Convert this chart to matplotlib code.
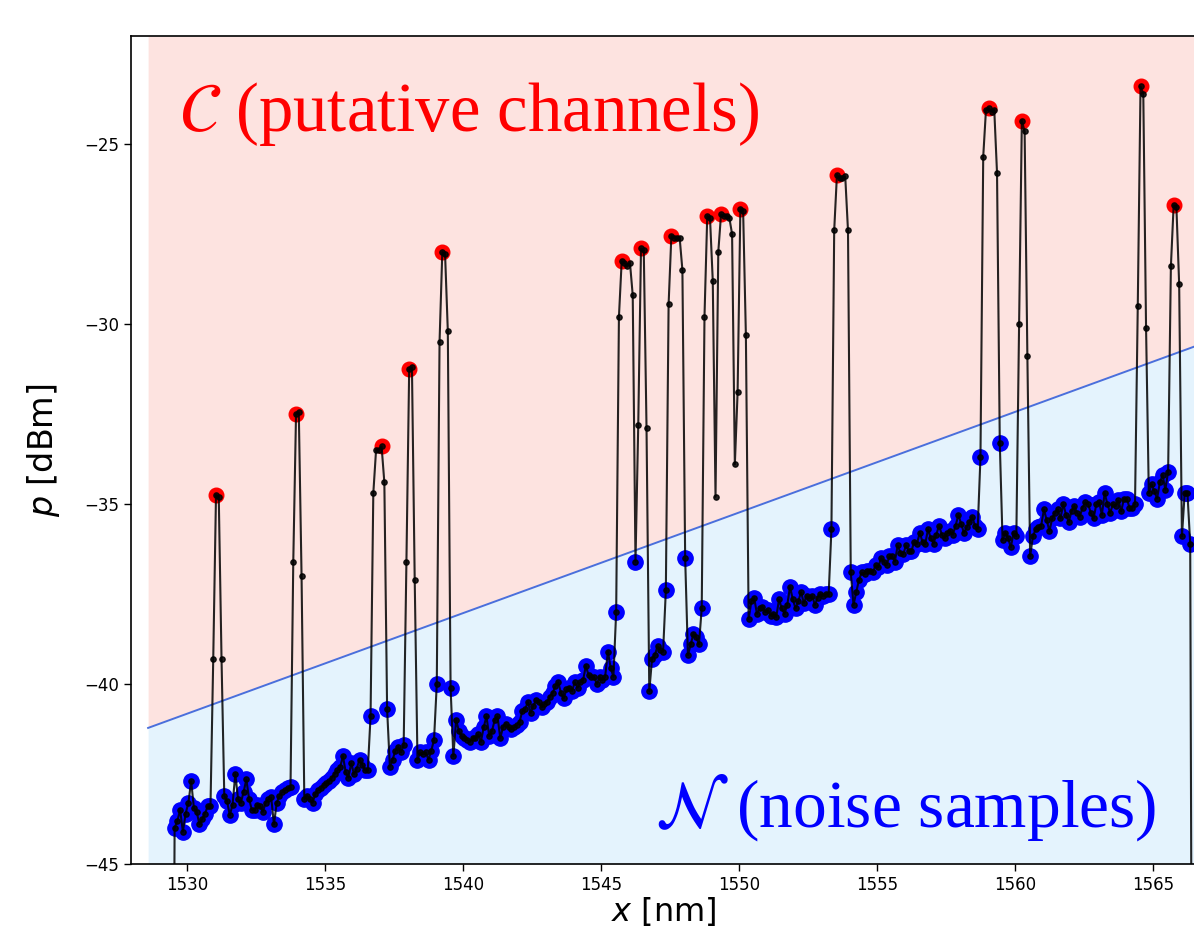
import numpy as np
import matplotlib.pyplot as plt

# OSA trace: first sample at 1529.45 nm, one sample every 0.1 nm
start_nm = 1529.45
step_nm = 0.1
power_dbm = [
    -60.0,
    # 1529.55 - 1530.85
    -44.0, -43.8, -43.5, -44.1, -43.6, -43.3, -42.7, -43.45, -43.55, -43.9, -43.75, -43.6, -43.4, -43.4,
    -39.3, -34.75, -34.8, -39.3,
    -43.1, -43.25, -43.65, -43.35, -42.5, -43.2, -43.3, -43.0, -42.65, -43.2,
    -43.5, -43.5, -43.35, -43.4, -43.55, -43.3, -43.2, -43.15, -43.9, -43.3,
    -43.1, -43.0, -42.95, -42.9, -42.85,
    -36.6, -32.5, -32.45, -37.0,
    -43.2, -43.1, -43.2, -43.3, -43.05, -42.95, -42.9, -42.8, -42.75, -42.7,
    -42.6, -42.5, -42.4, -42.3, -42.0, -42.45, -42.6, -42.2, -42.5, -42.35,
    -42.1, -42.25, -42.4, -42.4,
    -40.9,
    -34.7, -33.5, -33.5, -33.4, -34.4,
    -40.7,
    -42.3, -42.1, -41.85, -41.75, -41.9, -41.7,
    -36.6, -31.25, -31.2, -37.1,
    -42.1, -41.9, -41.95, -41.9, -42.1, -41.85, -41.55,
    -40.0,
    -30.5, -28.0, -28.05, -30.2,
    -40.1, -42.0,
    # 1539.75 - 1545.45
    -41.0, -41.3, -41.45, -41.5, -41.55, -41.6, -41.5, -41.5, -41.4, -41.6,
    -41.2, -40.9, -41.45, -41.3, -41.0, -40.9, -41.5, -41.2, -41.1, -41.2,
    -41.25, -41.2, -41.15, -41.05, -40.75, -40.7, -40.5, -40.8, -40.6, -40.45,
    -40.5, -40.65, -40.55, -40.5, -40.35, -40.25, -40.05, -39.95, -40.25, -40.4,
    -40.15, -40.1, -40.2, -39.95, -40.1, -39.95, -39.9, -39.5, -39.75, -39.8,
    -39.8, -40.0, -39.8, -39.9, -39.8, -39.1, -39.55, -39.8,
    # 1545.55 - 1550.35
    -38.0, -29.8, -28.25, -28.3, -28.4, -28.3, -29.2, -36.6,
    -32.8, -27.9, -27.95, -32.9,
    -40.2, -39.3, -39.2, -38.95, -39.05, -39.1,
    -37.4, -29.45, -27.55, -27.6, -27.6, -27.6, -28.5, -36.5,
    -39.2, -38.9, -38.6, -38.7, -38.9,
    -37.9, -29.8, -27.0, -27.05, -28.8, -34.8,
    -28.0, -26.95, -27.0, -27.0, -27.05, -27.5, -33.9,
    -31.9, -26.8, -26.85, -30.3,
    -38.2,
    # 1550.45 - 1553.25
    -37.7, -37.6, -38.05, -37.9, -37.85, -38.0, -37.95, -38.1, -38.05, -38.15,
    -37.65, -37.9, -38.05, -37.8, -37.3, -37.65, -37.9, -37.7, -37.45, -37.75,
    -37.55, -37.6, -37.55, -37.8, -37.6, -37.5, -37.55, -37.5, -37.5,
    -35.7, -27.4, -25.85, -25.95, -25.95, -25.9, -27.4, -36.9, -37.8,
    # 1554.25 - 1558.65
    -37.45, -37.1, -36.9, -36.95, -36.85, -36.85, -36.9, -36.7, -36.75, -36.5,
    -36.6, -36.7, -36.45, -36.45, -36.6, -36.15, -36.35, -36.4, -36.15, -36.3,
    -36.3, -36.05, -36.1, -35.8, -36.05, -36.1, -35.7, -35.95, -36.1, -35.85,
    -35.6, -35.85, -35.95, -35.8, -35.75, -35.85, -35.6, -35.3, -35.55, -35.8,
    -35.65, -35.5, -35.35, -35.6, -35.7,
    -33.7, -25.35, -24.05, -24.0, -24.1, -24.05, -25.8, -33.3,
    -36.0, -35.8, -35.95, -36.2, -35.8, -35.9,
    -30.0, -24.35, -24.65, -30.9, -36.45,
    # 1560.65 - 1564.35
    -35.9, -35.7, -35.65, -35.6, -35.15, -35.45, -35.75, -35.4, -35.25, -35.15,
    -35.4, -35.0, -35.3, -35.5, -35.2, -35.05, -35.25, -35.35, -35.1, -34.95,
    -35.0, -35.25, -35.4, -35.0, -34.95, -35.3, -34.7, -35.0, -35.25, -35.0,
    -35.05, -34.9, -35.2, -34.85, -34.85, -35.1, -35.1, -35.0,
    -29.5, -23.4, -23.6, -30.1, -34.7,
    -34.45, -34.65, -34.85, -34.4, -34.2, -34.6, -34.1,
    -28.4, -26.7, -26.75, -28.9,
    -35.9, -34.7, -34.7, -36.1,
    -60.0,
]

# samples marked as channels (red)
channel_idx = [16, 45, 76, 86, 98, 163, 170, 181, 194, 199, 206, 241, 296, 308, 351, 363]

# decision line between channels and noise
thr_x = [1528.59, 1566.56]
thr_y = [-41.22, -30.61]

p = np.array(power_dbm)
x = start_nm + step_nm * np.arange(len(p))
noise = p < np.interp(x, thr_x, thr_y)

fig = plt.figure(figsize=(11.94, 9.34), dpi=100)
ax = fig.add_axes([131 / 1194, 70 / 934, 1065 / 1194, 828 / 934])
ax.set_xlim(1527.97, 1566.56)
ax.set_ylim(-45, -22)

ax.fill_between(thr_x, thr_y, [-22, -22], color='#fde3e0', lw=0, zorder=0)
ax.fill_between(thr_x, [-45, -45], thr_y, color='#e4f3fd', lw=0, zorder=0)
ax.plot(thr_x, thr_y, color='#4a6fdc', lw=1.4, zorder=1)

ax.plot(x[noise], p[noise], 'o', color='blue', ms=11, zorder=2)
ax.plot(x[channel_idx], p[channel_idx], 'o', color='red', ms=10.5, zorder=2)
ax.plot(x, p, '-o', color='k', lw=1.5, ms=3.8, alpha=0.85, zorder=3)

ax.text(1529.7, -24.65, r'$\mathcal{C}$ (putative channels)', color='red',
        fontsize=49.5, family='Liberation Serif', math_fontfamily='stix')
ax.text(1546.95, -43.95, r'$\mathcal{N}$ (noise samples)', color='blue',
        fontsize=48.5, family='Liberation Serif', math_fontfamily='stix')

ax.set_xticks(range(1530, 1570, 5))
ax.set_yticks(range(-45, -24, 5))
ax.tick_params(labelsize=12, length=5, width=1)
for s in ax.spines.values():
    s.set_linewidth(1.2)

ax.set_xlabel('$x$ [nm]', fontsize=23, labelpad=1)
ax.set_ylabel('$p$ [dBm]', fontsize=24, labelpad=16)

fig.savefig('out.png', dpi=100)
